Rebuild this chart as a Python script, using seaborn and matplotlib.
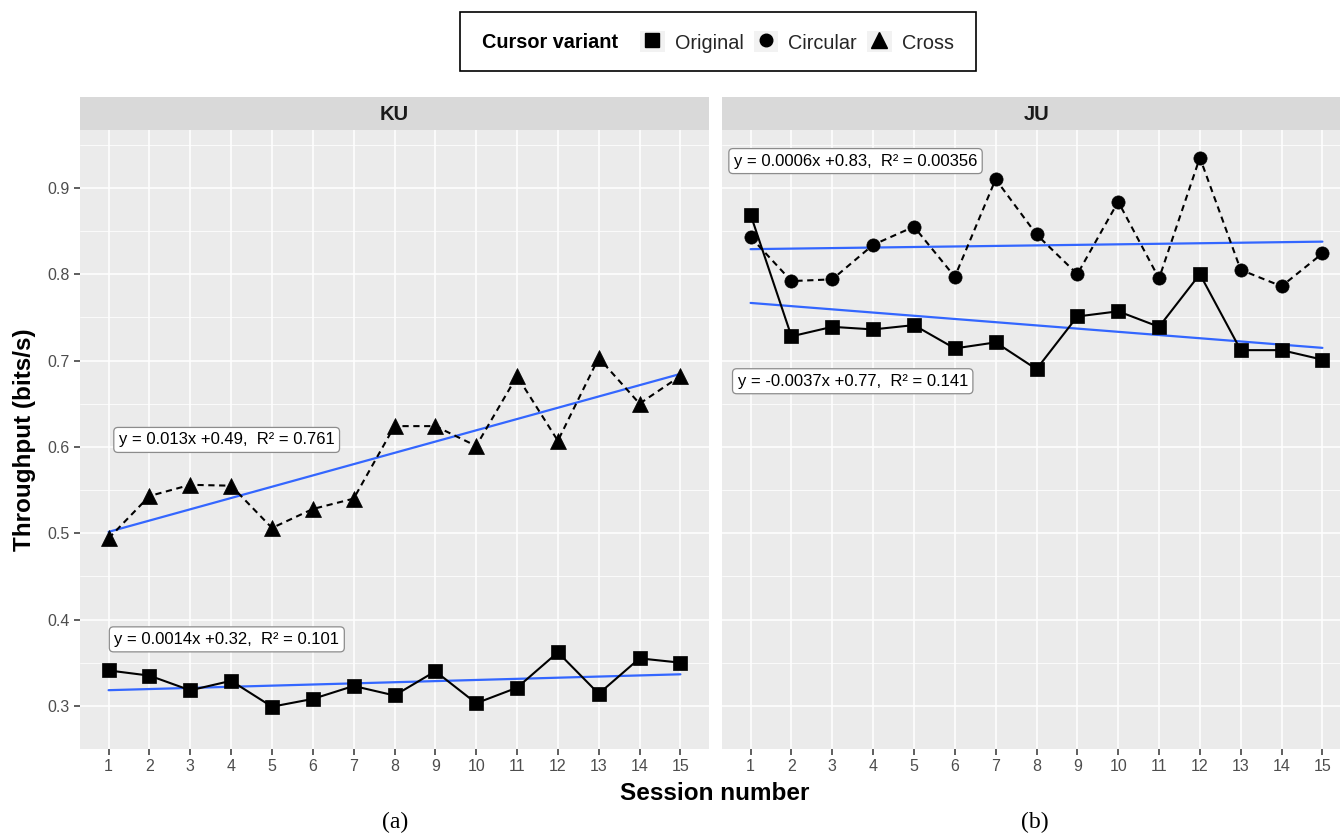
import matplotlib
matplotlib.use("Agg")
import matplotlib.pyplot as plt
from matplotlib.patches import Rectangle, Patch
from matplotlib.lines import Line2D
import seaborn as sns
import pandas as pd

# ---------------- data ----------------
sessions = list(range(1, 16))
panels = ["KU", "JU"]
variants = ["Original", "Circular", "Cross"]

ku_original = [0.341, 0.335, 0.318, 0.329, 0.299, 0.308, 0.323, 0.312, 0.340, 0.303,
               0.321, 0.362, 0.314, 0.355, 0.350]
ku_cross = [0.494, 0.543, 0.556, 0.555, 0.506, 0.528, 0.540, 0.624, 0.624, 0.601,
            0.682, 0.607, 0.703, 0.650, 0.682]
ju_original = [0.869, 0.728, 0.739, 0.736, 0.741, 0.714, 0.721, 0.690, 0.751, 0.757,
               0.739, 0.800, 0.712, 0.712, 0.701]
ju_circular = [0.843, 0.792, 0.794, 0.834, 0.855, 0.797, 0.910, 0.846, 0.800, 0.884,
               0.795, 0.935, 0.805, 0.786, 0.824]

eq_ku_cross = "y = 0.013x +0.49,  R² = 0.761"
eq_ku_original = "y = 0.0014x +0.32,  R² = 0.101"
eq_ju_circular = "y = 0.0006x +0.83,  R² = 0.00356"
eq_ju_original = "y = -0.0037x +0.77,  R² = 0.141"

y_ticks = [0.3, 0.4, 0.5, 0.6, 0.7, 0.8, 0.9]
y_minor = [0.25, 0.35, 0.45, 0.55, 0.65, 0.75, 0.85, 0.95]

rows = []
for p, v, vals in [("KU", "Original", ku_original), ("KU", "Cross", ku_cross),
                   ("JU", "Original", ju_original), ("JU", "Circular", ju_circular)]:
    for s, val in zip(sessions, vals):
        rows.append({"panel": p, "variant": v, "session": s, "tp": val})
df = pd.DataFrame(rows)

labels = {
    ("KU", "Cross"): (1.25, 0.608, eq_ku_cross),
    ("KU", "Original"): (1.14, 0.377, eq_ku_original),
    ("JU", "Circular"): (0.59, 0.931, eq_ju_circular),
    ("JU", "Original"): (0.68, 0.676, eq_ju_original),
}

markers = {"Original": "s", "Circular": "o", "Cross": "^"}
msizes = {"Original": 10, "Circular": 9.5, "Cross": 11.5}
lstyles = {"Original": "-", "Circular": (0, (3, 2.2)), "Cross": (0, (3, 2.2))}

# ---------------- style ----------------
sns.set_theme(style="darkgrid")
plt.rcParams["font.family"] = ["Liberation Sans", "DejaVu Sans"]

W, H = 1340, 834
fig = plt.figure(figsize=(W / 100, H / 100), dpi=100)
fig.patch.set_facecolor("white")


def rect(l, t, r, b):
    return [l / W, 1 - b / H, (r - l) / W, (b - t) / H]


axes = {
    "KU": fig.add_axes(rect(80, 130, 709, 749)),
    "JU": fig.add_axes(rect(722, 130, 1351, 749)),
}
strips = {
    "KU": fig.add_axes(rect(80, 97, 709, 130)),
    "JU": fig.add_axes(rect(722, 97, 1351, 130)),
}

for p in panels:
    ax = axes[p]
    ax.set_facecolor("#EBEBEB")
    for sp in ax.spines.values():
        sp.set_visible(False)
    ax.set_xlim(0.3, 15.7)
    ax.set_ylim(0.266, 0.967)
    ax.set_xticks(sessions)
    ax.set_xticklabels([str(s) for s in sessions])
    ax.set_yticks(y_ticks)
    ax.set_yticklabels([f"{t:.1f}" for t in y_ticks])
    ax.set_yticks(y_minor, minor=True)
    ax.set_xticks([], minor=True)
    ax.grid(which="major", color="white", lw=1.1)
    ax.grid(which="minor", axis="y", color="white", lw=0.55)
    ax.set_axisbelow(True)
    ax.tick_params(axis="both", which="major", length=4.5, width=1.1, color="#333333",
                   labelsize=11.5, labelcolor="#4D4D4D", pad=3)
    ax.tick_params(axis="both", which="minor", length=0)
    ax.tick_params(axis="x", bottom=True)
    ax.tick_params(axis="y", left=True)
    if p == "JU":
        ax.tick_params(axis="y", left=False, labelleft=False)

    sub = df[df["panel"] == p]
    for v in variants:
        d = sub[sub["variant"] == v]
        if d.empty:
            continue
        sns.regplot(data=d, x="session", y="tp", scatter=False, ci=None, ax=ax,
                    truncate=True, line_kws=dict(color="#3366FF", lw=1.6, zorder=2))
        sns.lineplot(data=d, x="session", y="tp", ax=ax, color="black",
                     linestyle=lstyles[v], lw=1.5, marker=markers[v],
                     markersize=msizes[v], markeredgecolor="black",
                     markerfacecolor="black", markeredgewidth=0.5, zorder=3)
        lx, ly, txt = labels[(p, v)]
        ax.text(lx, ly, txt, ha="left", va="center", fontsize=12, color="black",
                zorder=5,
                bbox=dict(boxstyle="round,pad=0.3,rounding_size=0.25",
                          facecolor="white", edgecolor="#8C8C8C", lw=0.9))
    ax.set_xlabel("")
    ax.set_ylabel("")

    st = strips[p]
    st.set_facecolor("#D9D9D9")
    st.set_xticks([])
    st.set_yticks([])
    for sp in st.spines.values():
        sp.set_visible(False)
    st.grid(False)
    st.text(0.5, 0.48, p, transform=st.transAxes, ha="center", va="center",
            fontsize=14.5, fontweight="bold", color="#1A1A1A")

# axis titles
fig.text(715 / W, 1 - 793 / H, "Session number", ha="center", va="center",
         fontsize=17.5, fontweight="bold", color="black")
fig.text(25 / W, 1 - 440 / H, "Throughput (bits/s)", ha="center", va="center",
         rotation=90, fontsize=17.5, fontweight="bold", color="black")

# captions
fig.text(395 / W, 1 - 822 / H, "(a)", ha="center", va="center", fontsize=17,
         family=["Liberation Serif", "DejaVu Serif"], color="black")
fig.text(1035 / W, 1 - 822 / H, "(b)", ha="center", va="center", fontsize=17,
         family=["Liberation Serif", "DejaVu Serif"], color="black")

# legend
fig.patches.append(Rectangle((460 / W, 1 - 71 / H), (976 - 460) / W, (71 - 12) / H,
                             transform=fig.transFigure, facecolor="white",
                             edgecolor="black", lw=1.2, zorder=0))
fig.text(482 / W, 1 - 42 / H, "Cursor variant", ha="left", va="center",
         fontsize=14.3, fontweight="bold", color="black")
handles = []
for v in variants:
    handles.append((Patch(facecolor="#F2F2F2", edgecolor="none"),
                    Line2D([], [], marker=markers[v], color="black", linestyle="none",
                           markersize=msizes[v] * 0.95)))
fig.legend(handles, variants, loc="center left",
           bbox_to_anchor=(640 / W, 1 - 42 / H), ncol=3, frameon=False,
           fontsize=14.3, handlelength=1.25, handleheight=1.25, handletextpad=0.5,
           columnspacing=0.5, borderpad=0, borderaxespad=0)

fig.savefig("out.png", dpi=100, facecolor="white")
